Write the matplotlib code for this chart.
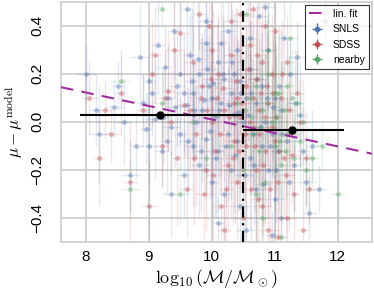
import matplotlib
matplotlib.use("Agg")
import matplotlib.pyplot as plt
import numpy as np

plt.rcParams['font.family'] = ['Liberation Sans', 'DejaVu Sans']
plt.rcParams['mathtext.fontset'] = 'cm'

# ---- data: rows of (mass, residual, mass_err, resid_err) ----
snls_rows = [
    (8.0, 0.20, 0.15, 0.12), (8.15, 0.05, 0.10, 0.15), (8.2, -0.05, 0.15, 0.20), (8.5, 0.15, 0.10, 0.10),
    (8.6, 0.00, 0.12, 0.18), (8.8, -0.10, 0.10, 0.14), (8.85, 0.27, 0.15, 0.22), (8.9, 0.08, 0.10, 0.12),
    (9.0, -0.10, 0.12, 0.16), (9.0, 0.17, 0.10, 0.20), (9.1, 0.01, 0.15, 0.25), (9.2, -0.12, 0.10, 0.15),
    (9.25, 0.23, 0.12, 0.18), (9.3, 0.10, 0.10, 0.22), (9.35, -0.02, 0.15, 0.12), (9.4, 0.38, 0.10, 0.20),
    (9.45, 0.15, 0.12, 0.25), (9.5, -0.05, 0.10, 0.15), (9.5, 0.20, 0.15, 0.30), (9.55, -0.22, 0.10, 0.18),
    (9.6, 0.07, 0.12, 0.22), (9.65, 0.28, 0.10, 0.20), (9.7, -0.10, 0.15, 0.25), (9.7, 0.12, 0.10, 0.28),
    (9.75, 0.00, 0.12, 0.15), (9.8, 0.20, 0.10, 0.20), (9.8, -0.18, 0.15, 0.22), (9.85, 0.05, 0.10, 0.30),
    (9.9, 0.33, 0.12, 0.18), (9.9, -0.07, 0.10, 0.25), (9.95, 0.15, 0.15, 0.20), (10.0, -0.25, 0.10, 0.15),
    (10.0, 0.10, 0.12, 0.30), (10.05, 0.02, 0.10, 0.22), (10.1, 0.25, 0.15, 0.18), (10.1, -0.12, 0.10, 0.25),
    (10.15, 0.08, 0.12, 0.30), (10.2, -0.30, 0.10, 0.20), (10.2, 0.18, 0.15, 0.22), (10.25, -0.05, 0.10, 0.28),
    (10.3, 0.12, 0.12, 0.15), (10.3, -0.20, 0.10, 0.20), (10.35, 0.03, 0.15, 0.25), (10.4, 0.30, 0.10, 0.18),
    (10.4, -0.08, 0.12, 0.30), (10.45, 0.17, 0.10, 0.22), (10.45, -0.35, 0.15, 0.20), (10.5, 0.00, 0.10, 0.28),
    (10.55, 0.10, 0.12, 0.25), (10.6, -0.15, 0.10, 0.30), (10.6, 0.22, 0.15, 0.20), (10.65, -0.05, 0.10, 0.22),
    (10.7, 0.08, 0.12, 0.18), (10.7, -0.28, 0.10, 0.25), (10.75, 0.44, 0.15, 0.20), (10.8, -0.10, 0.10, 0.30),
    (10.8, 0.15, 0.12, 0.22), (10.85, 0.00, 0.10, 0.28), (10.9, -0.20, 0.15, 0.20), (10.9, 0.30, 0.10, 0.25),
    (10.95, -0.05, 0.12, 0.18), (11.0, 0.10, 0.10, 0.30), (11.0, -0.32, 0.15, 0.15), (11.05, -0.12, 0.10, 0.22),
    (11.1, 0.05, 0.12, 0.20), (11.1, -0.40, 0.10, 0.12), (11.2, -0.08, 0.15, 0.18), (11.25, 0.20, 0.10, 0.15),
    (11.3, -0.18, 0.12, 0.20), (11.4, 0.03, 0.10, 0.22), (11.5, -0.25, 0.15, 0.12), (11.6, -0.10, 0.10, 0.15),
    (11.7, -0.28, 0.12, 0.10), (9.6, 0.47, 0.10, 0.20), (10.85, 0.48, 0.15, 0.15), (11.8, 0.42, 0.10, 0.12),
    (9.35, -0.30, 0.15, 0.18), (10.1, -0.42, 0.10, 0.10), (10.55, -0.45, 0.15, 0.12), (10.95, -0.47, 0.10, 0.10),
    (11.15, 0.35, 0.12, 0.15), (9.9, 0.42, 0.10, 0.20), (8.7, -0.22, 0.15, 0.15), (9.15, 0.32, 0.10, 0.20),
    (10.25, 0.38, 0.12, 0.18), (10.6, 0.35, 0.10, 0.22), (11.35, 0.27, 0.15, 0.15),
    (9.55, 0.12, 0.10, 0.25), (9.62, -0.08, 0.12, 0.22), (9.68, 0.17, 0.10, 0.30), (9.72, 0.05, 0.15, 0.20),
    (9.78, 0.26, 0.10, 0.28), (9.83, -0.12, 0.12, 0.25), (9.88, 0.09, 0.10, 0.30), (9.93, 0.22, 0.15, 0.22),
    (9.97, -0.04, 0.10, 0.28), (10.02, 0.16, 0.12, 0.30), (10.07, -0.15, 0.10, 0.25), (10.12, 0.05, 0.15, 0.28),
    (10.17, 0.20, 0.10, 0.30), (10.22, -0.10, 0.12, 0.25), (10.27, 0.07, 0.10, 0.30), (10.32, 0.25, 0.15, 0.22),
    (10.37, -0.14, 0.10, 0.28), (10.42, 0.04, 0.12, 0.30), (10.47, 0.12, 0.10, 0.25), (10.52, -0.22, 0.15, 0.30),
    (10.57, 0.03, 0.10, 0.28), (10.62, 0.12, 0.12, 0.30), (10.67, -0.18, 0.10, 0.25), (10.72, 0.18, 0.15, 0.28),
    (10.77, -0.02, 0.10, 0.30), (10.82, -0.26, 0.12, 0.22), (10.87, 0.10, 0.10, 0.28), (10.92, -0.10, 0.15, 0.25),
    (10.97, 0.06, 0.10, 0.30), (11.02, -0.20, 0.12, 0.22), (11.07, 0.15, 0.10, 0.25), (11.12, -0.05, 0.15, 0.28),
    (11.22, -0.25, 0.10, 0.20), (11.32, 0.08, 0.12, 0.22), (11.45, -0.12, 0.10, 0.18), (11.55, -0.38, 0.12, 0.15),
    (9.05, 0.12, 0.10, 0.18), (9.22, 0.02, 0.12, 0.20), (9.28, -0.08, 0.10, 0.22), (9.42, 0.06, 0.15, 0.25),
    (8.95, -0.03, 0.10, 0.15), (8.45, 0.06, 0.15, 0.12), (10.15, 0.33, 0.10, 0.22), (10.35, 0.20, 0.12, 0.25),
]

sdss_rows = [
    (8.05, 0.10, 0.12, 0.15), (8.2, -0.15, 0.10, 0.20), (8.4, -0.05, 0.15, 0.12), (8.55, 0.12, 0.10, 0.18),
    (8.7, -0.25, 0.12, 0.25), (8.9, 0.05, 0.10, 0.15), (9.0, -0.35, 0.15, 0.20), (9.05, 0.20, 0.10, 0.22),
    (9.2, -0.10, 0.12, 0.18), (9.3, 0.13, 0.10, 0.25), (9.4, 0.30, 0.15, 0.20), (9.45, -0.15, 0.10, 0.28),
    (9.55, 0.07, 0.12, 0.22), (9.6, -0.28, 0.10, 0.20), (9.7, 0.25, 0.15, 0.25), (9.75, -0.05, 0.10, 0.30),
    (9.85, 0.15, 0.12, 0.22), (9.9, -0.20, 0.10, 0.25), (9.95, 0.40, 0.15, 0.20), (10.0, 0.00, 0.10, 0.30),
    (10.05, -0.12, 0.12, 0.28), (10.1, 0.20, 0.10, 0.25), (10.15, -0.35, 0.15, 0.20), (10.2, 0.05, 0.10, 0.30),
    (10.25, -0.18, 0.12, 0.28), (10.3, 0.28, 0.10, 0.22), (10.35, -0.08, 0.15, 0.30), (10.4, 0.10, 0.10, 0.25),
    (10.4, -0.25, 0.12, 0.28), (10.45, 0.02, 0.10, 0.30), (10.5, -0.40, 0.15, 0.20), (10.55, 0.15, 0.10, 0.25),
    (10.55, -0.10, 0.12, 0.30), (10.6, 0.32, 0.10, 0.22), (10.65, -0.02, 0.15, 0.28), (10.7, -0.20, 0.10, 0.30),
    (10.7, 0.18, 0.12, 0.25), (10.75, 0.05, 0.10, 0.30), (10.8, -0.35, 0.15, 0.22), (10.8, 0.25, 0.10, 0.25),
    (10.85, -0.12, 0.12, 0.30), (10.9, 0.08, 0.10, 0.28), (10.9, -0.45, 0.15, 0.20), (10.95, 0.20, 0.10, 0.25),
    (11.0, -0.08, 0.12, 0.30), (11.0, 0.38, 0.10, 0.20), (11.05, -0.25, 0.15, 0.22), (11.1, 0.10, 0.10, 0.28),
    (11.15, -0.15, 0.12, 0.25), (11.2, 0.25, 0.10, 0.20), (11.25, -0.05, 0.15, 0.22), (11.3, -0.30, 0.10, 0.20),
    (11.35, 0.12, 0.12, 0.18), (11.45, -0.45, 0.10, 0.15), (11.5, -0.15, 0.15, 0.20), (9.8, 0.45, 0.10, 0.15),
    (10.3, 0.42, 0.12, 0.20), (10.65, 0.47, 0.10, 0.15), (11.05, -0.48, 0.15, 0.12), (10.85, 0.40, 0.10, 0.20),
    (9.5, 0.37, 0.12, 0.18), (10.2, -0.45, 0.10, 0.15), (8.3, 0.05, 0.15, 0.12), (9.1, 0.28, 0.10, 0.20),
    (10.0, 0.30, 0.12, 0.25), (10.45, 0.45, 0.10, 0.20), (11.2, -0.40, 0.15, 0.15), (10.75, -0.05, 0.10, 0.30),
    (10.35, 0.08, 0.12, 0.28), (10.6, 0.00, 0.10, 0.30),
    (10.02, -0.22, 0.10, 0.28), (10.08, 0.10, 0.12, 0.30), (10.13, -0.05, 0.10, 0.25), (10.18, 0.14, 0.15, 0.30),
    (10.23, -0.28, 0.10, 0.25), (10.28, 0.02, 0.12, 0.30), (10.33, -0.15, 0.10, 0.28), (10.38, 0.17, 0.15, 0.30),
    (10.43, -0.12, 0.10, 0.25), (10.48, 0.08, 0.12, 0.30), (10.52, -0.05, 0.10, 0.28), (10.57, 0.22, 0.15, 0.30),
    (10.62, -0.28, 0.10, 0.25), (10.66, 0.10, 0.12, 0.30), (10.68, -0.10, 0.10, 0.28), (10.72, 0.28, 0.15, 0.25),
    (10.73, -0.32, 0.10, 0.28), (10.78, 0.12, 0.12, 0.30), (10.82, -0.18, 0.10, 0.25), (10.84, 0.02, 0.15, 0.30),
    (10.88, 0.15, 0.10, 0.28), (10.92, -0.28, 0.12, 0.30), (10.96, -0.02, 0.10, 0.25), (10.98, 0.12, 0.15, 0.28),
    (11.02, 0.02, 0.10, 0.30), (11.07, -0.12, 0.12, 0.25), (11.12, 0.20, 0.10, 0.22), (11.18, -0.22, 0.15, 0.25),
    (11.23, 0.05, 0.10, 0.22), (11.28, -0.14, 0.12, 0.20), (11.4, 0.00, 0.10, 0.18), (11.55, -0.28, 0.12, 0.15),
    (9.65, 0.05, 0.10, 0.25), (9.72, -0.15, 0.12, 0.28), (9.82, 0.10, 0.10, 0.25), (9.88, -0.30, 0.15, 0.22),
    (9.92, 0.05, 0.10, 0.28), (9.98, 0.18, 0.12, 0.25), (9.35, 0.00, 0.10, 0.22), (9.25, 0.10, 0.12, 0.20),
]

near_rows = [
    (8.55, 0.17, 0.15, 0.10), (8.7, -0.28, 0.15, 0.12), (9.2, 0.08, 0.12, 0.15), (9.5, -0.30, 0.12, 0.12),
    (9.7, 0.00, 0.10, 0.20), (9.9, -0.15, 0.12, 0.15), (10.1, 0.03, 0.10, 0.20), (10.3, -0.10, 0.12, 0.22),
    (10.4, 0.08, 0.10, 0.25), (10.5, -0.20, 0.12, 0.20), (10.6, 0.10, 0.10, 0.25), (10.65, -0.05, 0.12, 0.22),
    (10.7, 0.15, 0.10, 0.20), (10.75, -0.12, 0.12, 0.25), (10.8, 0.05, 0.10, 0.22), (10.85, -0.25, 0.12, 0.20),
    (10.9, 0.20, 0.10, 0.25), (10.95, 0.00, 0.12, 0.22), (11.0, -0.10, 0.10, 0.20), (11.05, 0.12, 0.12, 0.25),
    (11.1, -0.18, 0.10, 0.22), (11.15, 0.05, 0.12, 0.20), (11.2, -0.05, 0.10, 0.18), (11.25, 0.35, 0.12, 0.20),
    (11.3, -0.15, 0.10, 0.22), (11.35, 0.08, 0.12, 0.18), (11.4, -0.08, 0.10, 0.20), (11.5, -0.20, 0.12, 0.15),
    (11.6, -0.15, 0.10, 0.12), (11.75, -0.10, 0.12, 0.10), (12.0, -0.30, 0.12, 0.12), (9.2, 0.47, 0.10, 0.08),
    (10.9, 0.30, 0.12, 0.20), (11.1, -0.48, 0.10, 0.15), (10.55, 0.45, 0.12, 0.20), (11.0, 0.12, 0.10, 0.22),
    (11.45, 0.00, 0.12, 0.18), (10.7, -0.30, 0.10, 0.20), (11.2, 0.15, 0.12, 0.20), (10.8, -0.40, 0.10, 0.15),
    (10.62, 0.02, 0.10, 0.25), (10.78, -0.02, 0.12, 0.25), (10.88, 0.08, 0.10, 0.22), (11.02, 0.02, 0.12, 0.25),
    (11.08, -0.08, 0.10, 0.22), (11.18, -0.12, 0.12, 0.20), (10.52, 0.05, 0.10, 0.25), (11.28, 0.10, 0.12, 0.20),
]

snls_mass, snls_resid, snls_mass_err, snls_resid_err = map(list, zip(*snls_rows))
sdss_mass, sdss_resid, sdss_mass_err, sdss_resid_err = map(list, zip(*sdss_rows))
near_mass, near_resid, near_mass_err, near_resid_err = map(list, zip(*near_rows))

bin_mass = [9.18, 11.27]
bin_resid = [0.03, -0.033]
bin_mass_lo = [1.28, 0.77]
bin_mass_hi = [1.32, 0.83]

fit_intercept_at_10 = 0.01
fit_slope = -0.056
split_mass = 10.5

series = [
    ("SNLS", snls_mass, snls_resid, snls_mass_err, snls_resid_err, "#4c72b0"),
    ("SDSS", sdss_mass, sdss_resid, sdss_mass_err, sdss_resid_err, "#c44e52"),
    ("nearby", near_mass, near_resid, near_mass_err, near_resid_err, "#55a868"),
]

fig = plt.figure(figsize=(3.74, 3.02), dpi=100)
ax = fig.add_axes([0.163, 0.199, 0.832, 0.795])

handles = []
for name, xm, yr, xe, ye, col in series:
    ax.errorbar(xm, yr, xerr=xe, yerr=ye, fmt='none', ecolor=col, elinewidth=1.0,
                alpha=0.16, zorder=2)
    ax.plot(xm, yr, 'o', color=col, ms=3.5, alpha=0.4, mec='none', zorder=3)
    h = ax.errorbar([], [], xerr=[], yerr=[], fmt='o', color=col, ms=3, elinewidth=1.0)
    handles.append((h, name))

xs = np.array([7.6, 12.6])
fit_line, = ax.plot(xs, fit_intercept_at_10 + fit_slope * (xs - 10.0), ls=(0, (6, 4)),
                    color='#a02ca0', lw=1.5, zorder=5)

ax.axvline(split_mass, color='black', ls=(0, (5, 2.5, 1, 2.5)), lw=1.6, zorder=6)
ax.errorbar(bin_mass, bin_resid, xerr=[bin_mass_lo, bin_mass_hi], fmt='o', color='black',
            ms=5, elinewidth=1.5, capsize=0, zorder=7)

ax.set_xlim(7.6, 12.55)
ax.set_ylim(-0.5, 0.5)
ax.set_xticks([8, 9, 10, 11, 12])
ax.set_yticks([-0.4, -0.2, 0.0, 0.2, 0.4])
ax.set_yticklabels(['\u22120.4', '\u22120.2', '0.0', '0.2', '0.4'], rotation=90, va='center')
ax.grid(True, color='#cccccc', lw=1.2, zorder=0)
ax.set_axisbelow(True)
for s in ax.spines.values():
    s.set_color('#cccccc')
    s.set_linewidth(1.2)
ax.tick_params(length=0, labelsize=11)
ax.tick_params(axis='x', pad=6)
ax.tick_params(axis='y', pad=12)
ax.set_xlabel(r'$\log_{10}(\mathcal{M}/\mathcal{M}_\odot)$', fontsize=13, labelpad=2)
ax.set_ylabel(r'$\mu - \mu^{\rm model}$', fontsize=12)
ax.yaxis.set_label_coords(-0.115, 0.5)

leg = ax.legend([fit_line] + [h for h, _ in handles], ['lin. fit'] + [n for _, n in handles],
                loc='upper right', fontsize=7.5, frameon=True, fancybox=False,
                borderaxespad=0.3, handlelength=1.5)
leg.get_frame().set_edgecolor('black')
leg.get_frame().set_linewidth(0.8)
leg.set_zorder(10)

fig.savefig('out.png', dpi=100)
